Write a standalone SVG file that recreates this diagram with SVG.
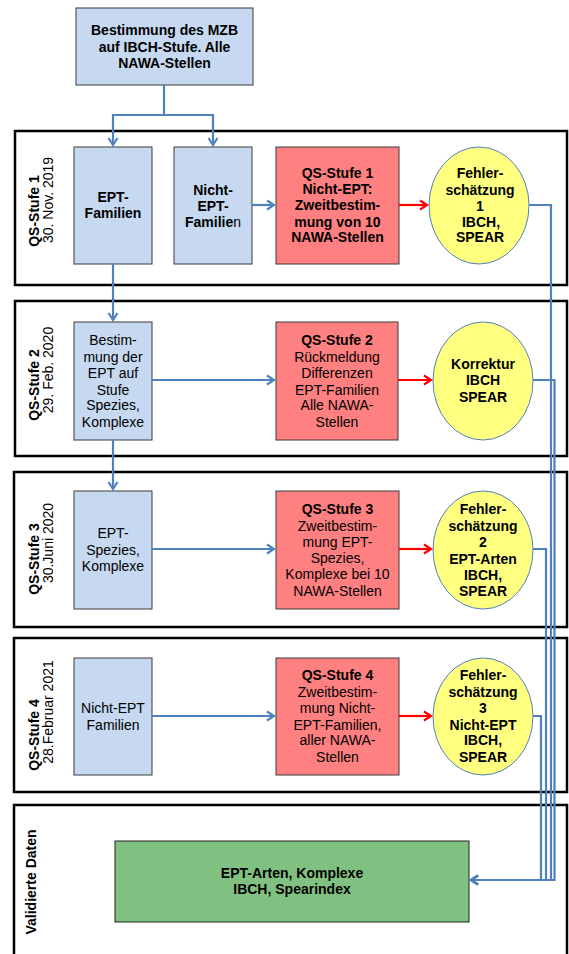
<svg xmlns="http://www.w3.org/2000/svg" width="569" height="954" viewBox="0 0 569 954">
<style>
text{font-family:"Liberation Sans",Arial,sans-serif;font-size:14px;fill:#000;text-anchor:middle}
.b{font-weight:bold}
.frame{fill:none;stroke:#000;stroke-width:2.5}
.blue{fill:#c6d9f1;stroke:#3a3a3a;stroke-width:1}
.red{fill:#ff8080;stroke:#3a3a3a;stroke-width:1}
.ell{fill:#ffff80;stroke:#4f81bd;stroke-width:1}
.green{fill:#80c080;stroke:#222;stroke-width:1}
.cb{fill:none;stroke:#4f81bd;stroke-width:2.2}
.cr{fill:none;stroke:#ff0000;stroke-width:2.2}
</style>
<defs>
<marker id="ab" markerUnits="userSpaceOnUse" markerWidth="12" markerHeight="12" refX="9" refY="6" orient="auto">
<path d="M2,1.5 L9,6 L2,10.5" fill="none" stroke="#4f81bd" stroke-width="2.2"/>
</marker>
<marker id="ar" markerUnits="userSpaceOnUse" markerWidth="12" markerHeight="12" refX="9" refY="6" orient="auto">
<path d="M2,1.5 L9,6 L2,10.5" fill="none" stroke="#ff0000" stroke-width="2.2"/>
</marker>
</defs>

<g id="frames">
<rect class="frame" x="15" y="131" width="552" height="154"/>
<rect class="frame" x="15" y="301" width="552" height="155"/>
<rect class="frame" x="14" y="472" width="553" height="155"/>
<rect class="frame" x="14" y="638" width="553" height="154"/>
<path class="frame" d="M14,960 V805 H567 V960"/>
</g>

<g id="labels">
<text class="b" transform="translate(39,211) rotate(-90)">QS-Stufe 1</text>
<text transform="translate(52.5,200) rotate(-90)">30. Nov. 2019</text>
<text class="b" transform="translate(39,385) rotate(-90)">QS-Stufe 2</text>
<text transform="translate(52.5,370) rotate(-90)">29. Feb. 2020</text>
<text class="b" transform="translate(39,559) rotate(-90)">QS-Stufe 3</text>
<text transform="translate(52.5,543) rotate(-90)">30.Juni 2020</text>
<text class="b" transform="translate(39,735) rotate(-90)">QS-Stufe 4</text>
<text transform="translate(52.5,712) rotate(-90)">28.Februar 2021</text>
<text class="b" transform="translate(36,882) rotate(-90)">Validierte Daten</text>
</g>

<g id="n-top">
<rect class="blue" x="76" y="8" width="177" height="77"/>
<text class="b" x="164.5" y="35">Bestimmung des MZB</text>
<text class="b" x="164.5" y="52">auf IBCH-Stufe. Alle</text>
<text class="b" x="164.5" y="68">NAWA-Stellen</text>
</g>

<g id="n-ept-fam">
<rect class="blue" x="74" y="147" width="78" height="117"/>
<text class="b" x="113" y="202">EPT-</text>
<text class="b" x="113" y="218">Familien</text>
</g>

<g id="n-nicht-ept-fam">
<rect class="blue" x="174" y="147" width="78" height="117"/>
<text class="b" x="213" y="195">Nicht-</text>
<text class="b" x="213" y="211">EPT-</text>
<text x="213" y="227"><tspan class="b">Familie</tspan>n</text>
</g>

<g id="n-qs1">
<rect class="red" x="276" y="147" width="123" height="117"/>
<text class="b" x="337.5" y="178">QS-Stufe 1</text>
<text class="b" x="337.5" y="194">Nicht-EPT:</text>
<text class="b" x="337.5" y="210">Zweitbestim-</text>
<text class="b" x="337.5" y="227">mung von 10</text>
<text class="b" x="337.5" y="242">NAWA-Stellen</text>
</g>

<g id="n-fs1">
<ellipse class="ell" cx="479" cy="205.5" rx="50" ry="58.5"/>
<text class="b" x="480" y="178">Fehler-</text>
<text class="b" x="480" y="195">schätzung</text>
<text class="b" x="480" y="211">1</text>
<text class="b" x="481" y="227">IBCH,</text>
<text class="b" x="480" y="242">SPEAR</text>
</g>

<g id="n-best">
<rect class="blue" x="74" y="322" width="78" height="118"/>
<text x="113" y="345">Bestim-</text>
<text x="113" y="362">mung der</text>
<text x="113" y="378">EPT auf</text>
<text x="113" y="395">Stufe</text>
<text x="113" y="410">Spezies,</text>
<text x="113" y="427">Komplexe</text>
</g>

<g id="n-qs2">
<rect class="red" x="276" y="322" width="122" height="118"/>
<text class="b" x="337" y="345">QS-Stufe 2</text>
<text x="337" y="362">Rückmeldung</text>
<text x="337" y="378">Differenzen</text>
<text x="337" y="395">EPT-Familien</text>
<text x="337" y="410">Alle NAWA-</text>
<text x="337" y="427">Stellen</text>
</g>

<g id="n-korr">
<ellipse class="ell" cx="483" cy="381" rx="50" ry="59"/>
<text class="b" x="483" y="369">Korrektur</text>
<text class="b" x="483" y="385">IBCH</text>
<text class="b" x="483" y="402">SPEAR</text>
</g>

<g id="n-ept-spez">
<rect class="blue" x="74" y="491" width="78" height="118"/>
<text x="113" y="538">EPT-</text>
<text x="113" y="555">Spezies,</text>
<text x="113" y="571">Komplexe</text>
</g>

<g id="n-qs3">
<rect class="red" x="276" y="491" width="123" height="118"/>
<text class="b" x="337.5" y="514">QS-Stufe 3</text>
<text x="337.5" y="531">Zweitbestim-</text>
<text x="337.5" y="547">mung EPT-</text>
<text x="337.5" y="563">Spezies,</text>
<text x="337.5" y="579">Komplexe bei 10</text>
<text x="337.5" y="596">NAWA-Stellen</text>
</g>

<g id="n-fs2">
<ellipse class="ell" cx="483" cy="550" rx="50" ry="59"/>
<text class="b" x="483" y="514">Fehler-</text>
<text class="b" x="483" y="531">schätzung</text>
<text class="b" x="483" y="547">2</text>
<text class="b" x="483" y="564">EPT-Arten</text>
<text class="b" x="483" y="580">IBCH,</text>
<text class="b" x="483" y="596">SPEAR</text>
</g>

<g id="n-nicht-ept">
<rect class="blue" x="74" y="658" width="78" height="117"/>
<text x="113" y="713">Nicht-EPT</text>
<text x="113" y="730">Familien</text>
</g>

<g id="n-qs4">
<rect class="red" x="276" y="658" width="123" height="117"/>
<text class="b" x="337.5" y="680">QS-Stufe 4</text>
<text x="337.5" y="697">Zweitbestim-</text>
<text x="337.5" y="713">mung Nicht-</text>
<text x="337.5" y="730">EPT-Familien,</text>
<text x="337.5" y="745">aller NAWA-</text>
<text x="337.5" y="762">Stellen</text>
</g>

<g id="n-fs3">
<ellipse class="ell" cx="483" cy="716.5" rx="50" ry="58.5"/>
<text class="b" x="483" y="680">Fehler-</text>
<text class="b" x="483" y="697">schätzung</text>
<text class="b" x="483" y="713">3</text>
<text class="b" x="483" y="730">Nicht-EPT</text>
<text class="b" x="483" y="745">IBCH,</text>
<text class="b" x="483" y="762">SPEAR</text>
</g>

<g id="n-valid">
<rect class="green" x="115" y="841" width="354" height="81"/>
<text class="b" x="292" y="878">EPT-Arten, Komplexe</text>
<text class="b" x="292" y="894">IBCH, Spearindex</text>
</g>

<g id="connectors">
<path class="cb" d="M164,85 V115"/>
<path class="cb" d="M164,115 H113 V145" marker-end="url(#ab)"/>
<path class="cb" d="M164,115 H213 V145" marker-end="url(#ab)"/>
<path class="cb" d="M113,264 V320" marker-end="url(#ab)"/>
<path class="cb" d="M113,440 V489" marker-end="url(#ab)"/>
<path class="cb" d="M252,205 H274" marker-end="url(#ab)"/>
<path class="cb" d="M152,380 H274" marker-end="url(#ab)"/>
<path class="cb" d="M152,549 H274" marker-end="url(#ab)"/>
<path class="cb" d="M152,716 H274" marker-end="url(#ab)"/>
<path class="cr" d="M399,205 H427" marker-end="url(#ar)"/>
<path class="cr" d="M398,380 H431" marker-end="url(#ar)"/>
<path class="cr" d="M399,549 H431" marker-end="url(#ar)"/>
<path class="cr" d="M399,716 H431" marker-end="url(#ar)"/>
<path class="cb" d="M529,205 H551 V880 H471" marker-end="url(#ab)"/>
<path class="cb" d="M533,380 H554.5 V880 H471" marker-end="url(#ab)"/>
<path class="cb" d="M533,549 H546 V880 H471" marker-end="url(#ab)"/>
<path class="cb" d="M533,716 H541 V880 H471" marker-end="url(#ab)"/>
</g>
</svg>
